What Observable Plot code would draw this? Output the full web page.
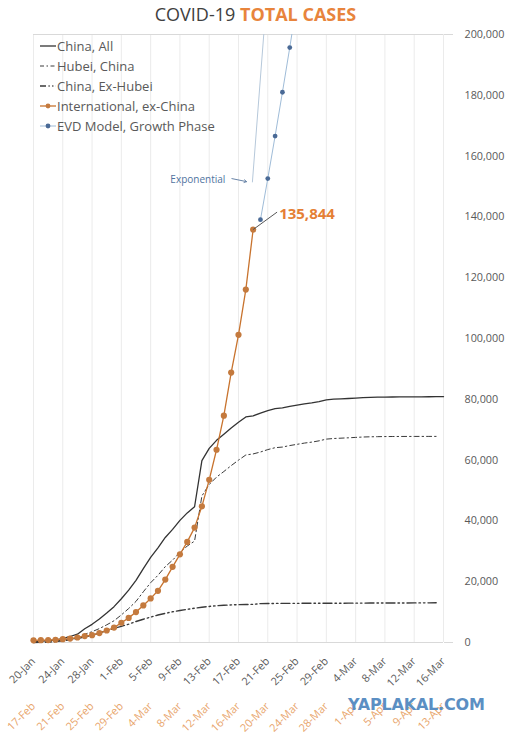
<!DOCTYPE html>
<html><head><meta charset="utf-8">
<script src="https://cdn.jsdelivr.net/npm/d3@7"></script>
<script src="https://cdn.jsdelivr.net/npm/@observablehq/plot@0.6"></script>
<style>
body{margin:0;background:#fff;font-family:"Open Sans",sans-serif;}
#wrap{position:relative;width:511px;height:733px;overflow:hidden;}
#chart{position:absolute;left:0;top:0}
#title{position:absolute;left:0;top:0;width:511px;height:28px;line-height:28px;text-align:center;font-size:18px;color:#404040;}
#title b{color:#e8843c;font-weight:700}
#legend{position:absolute;left:39px;top:36px;font-size:13px;color:#595959;}
.item{display:flex;align-items:center;height:20px}
.item svg{margin-right:1px}
#wm{position:absolute;left:348px;top:695px;font:bold 16px "DejaVu Sans",sans-serif;color:#5b8fc3;letter-spacing:-0.2px}
svg text{font-family:"Open Sans",sans-serif}
</style></head>
<body><div id="wrap">
<div id="chart"></div>
<div id="title">COVID-19 <b>TOTAL CASES</b></div>
<div id="legend"></div>
<div id="wm">YAPLAKAL.COM</div>
</div>
<script>
// x categories: days since 20-Jan (China) / since 17-Feb (International)
const topLabels = ["20-Jan","24-Jan","28-Jan","1-Feb","5-Feb","9-Feb","13-Feb","17-Feb","21-Feb","25-Feb","29-Feb","4-Mar","8-Mar","12-Mar","16-Mar"];
const bottomLabels = ["17-Feb","21-Feb","25-Feb","29-Feb","4-Mar","8-Mar","12-Mar","16-Mar","20-Mar","24-Mar","28-Mar","1-Apr","5-Apr","9-Apr","13-Apr"];
const yTicks = [0,20000,40000,60000,80000,100000,120000,140000,160000,180000,200000];

// daily totals from 20-Jan
const chinaAll = [291,440,571,830,1287,1975,2744,4515,5974,7711,9692,11791,14380,17205,20438,24324,28018,31161,34546,37198,40171,42638,44653,59804,63851,66492,68500,70548,72436,74185,74576,75465,76288,76936,77150,77658,78064,78497,78824,79251,79824,80026,80151,80270,80409,80552,80651,80695,80735,80754,80778,80793,80813,80824,80844,80860,80881];
const hubei = [270,375,444,549,729,1052,1423,2714,3554,4586,5806,7153,9074,11177,13522,16678,19665,22112,24953,27100,29631,31728,33366,48206,51986,54406,56249,58182,59989,61682,62031,62662,63454,64084,64287,64786,65187,65596,65914,66337,66907,67103,67217,67332,67466,67592,67666,67707,67743,67760,67773,67781,67786,67790,67794,67798];
const exHubei = [21,65,127,281,558,923,1321,1801,2420,3125,3886,4638,5306,6028,6916,7646,8353,9049,9593,10098,10540,10910,11287,11598,11865,12086,12251,12366,12447,12503,12545,12803,12834,12852,12863,12872,12877,12901,12910,12914,12917,12923,12934,12938,12943,12960,12985,12988,12992,12994,13005,13012,13027,13034,13050,13062];
// daily totals from 17-Feb
const international = [700,750,800,900,1100,1300,1650,2100,2400,3100,3950,4900,6500,8100,10000,12200,14500,17000,20700,24900,29000,33100,37800,44800,53500,63400,74600,88800,101200,116100,135844];
// EVD model, growth phase (starts at day 31)
const evdStart = 31;
const evdModel = [139100,152600,166600,181000,195700,211000];
// exponential guide
const exponential = [{day:29.9,value:151500},{day:31.45,value:200000}];
const expoNote = [{day:26.2,value:152200,x1:27.1,y1:152600,x2:29.1,y2:151600}];

const series = (arr, start = 0) => arr.map((v, i) => ({day: start + i, value: v}));
const tickDays = topLabels.map((_, i) => i * 4);
const lastIntl = series(international).slice(-1);
const orange = "#c8732e";

const chart = Plot.plot({
  width: 511, height: 733,
  marginLeft: 33, marginRight: 68, marginTop: 34, marginBottom: 91,
  x: {domain: [0, 56]},
  y: {domain: [0, 200000]},
  marks: [
    Plot.ruleX(tickDays, {stroke: "#ebebeb", strokeWidth: 1}),
    Plot.ruleY([0, 200000], {stroke: "#d9d9d9"}),
    Plot.axisY({anchor: "right", ticks: [0, 200000], tickSize: 9, tickFormat: () => "", stroke: "#d9d9d9", strokeOpacity: 1, label: null}),
    Plot.axisY({anchor: "right", ticks: yTicks, tickSize: 0, tickPadding: 21, tickFormat: d3.format(","), fill: "#595959", fontSize: 10.8, label: null}),
    Plot.axisX({anchor: "bottom", ticks: tickDays, tickFormat: d => topLabels[d / 4], tickRotate: -45, tickSize: 0, tickPadding: 17, fill: "#595959", fontSize: 10.8, label: null}),
    Plot.axisX({anchor: "bottom", ticks: tickDays, tickFormat: d => bottomLabels[d / 4], tickRotate: -45, tickSize: 0, tickPadding: 17, dy: 45, fill: "#e8a46a", fontSize: 10.8, label: null}),
    Plot.line(series(exHubei), {x: "day", y: "value", stroke: "#3a3a3a", strokeWidth: 1.4, strokeDasharray: "9,3,1.5,3,1.5,3"}),
    Plot.line(series(hubei), {x: "day", y: "value", stroke: "#3a3a3a", strokeWidth: 1, strokeDasharray: "5,3,1.5,3"}),
    Plot.line(series(chinaAll), {x: "day", y: "value", stroke: "#333", strokeWidth: 1.3}),
    Plot.line(exponential, {x: "day", y: "value", stroke: "#b6c8da", strokeWidth: 1}),
    Plot.line(series(evdModel, evdStart), {x: "day", y: "value", stroke: "#9fbcd8", strokeWidth: 1, clip: true}),
    Plot.dot(series(evdModel, evdStart), {x: "day", y: "value", fill: "#4a6a96", r: 2.4, clip: true}),
    Plot.line(series(international), {x: "day", y: "value", stroke: orange, strokeWidth: 1.3}),
    Plot.dot(series(international), {x: "day", y: "value", fill: "#c47a3e", r: 3.1}),
    Plot.link(lastIntl, {x1: "day", y1: "value", x2: d => d.day + 3.27, y2: d => d.value + 5730, stroke: "#555", strokeWidth: 1}),
    Plot.text(lastIntl, {x: "day", y: "value", text: d => d3.format(",")(d.value), dx: 26, dy: -15, textAnchor: "start", fill: "#e57f35", fontWeight: "bold", fontSize: 15}),
    Plot.text(expoNote, {x: "day", y: "value", text: () => "Exponential", textAnchor: "end", fill: "#4f73a0", fontSize: 10}),
    Plot.arrow(expoNote, {x1: "x1", y1: "y1", x2: "x2", y2: "y2", stroke: "#6a85a8", strokeWidth: 1, headLength: 4})
  ]
});
document.getElementById("chart").appendChild(chart);

const legendItems = [
  {label: "China, All", stroke: "#333", dash: null, dot: null, w: 1.3},
  {label: "Hubei, China", stroke: "#3a3a3a", dash: "4,2.5,1.5,2.5", dot: null, w: 1},
  {label: "China, Ex-Hubei", stroke: "#3a3a3a", dash: "6,2.5,1.2,2.5,1.2,2.5", dot: null, w: 1.3},
  {label: "International, ex-China", stroke: orange, dash: null, dot: "#c47a3e", w: 1.3},
  {label: "EVD Model, Growth Phase", stroke: "#9fbcd8", dash: null, dot: "#4a6a96", w: 1}
];
document.getElementById("legend").innerHTML = legendItems.map(d =>
  `<div class="item"><svg width="17" height="10"><line x1="1" x2="17" y1="5" y2="5" stroke="${d.stroke}" stroke-width="${d.w}" ${d.dash ? `stroke-dasharray="${d.dash}"` : ""}/>${d.dot ? `<circle cx="9" cy="5" r="2.4" fill="${d.dot}"/>` : ""}</svg><span>${d.label}</span></div>`
).join("");
</script>
</body></html>
